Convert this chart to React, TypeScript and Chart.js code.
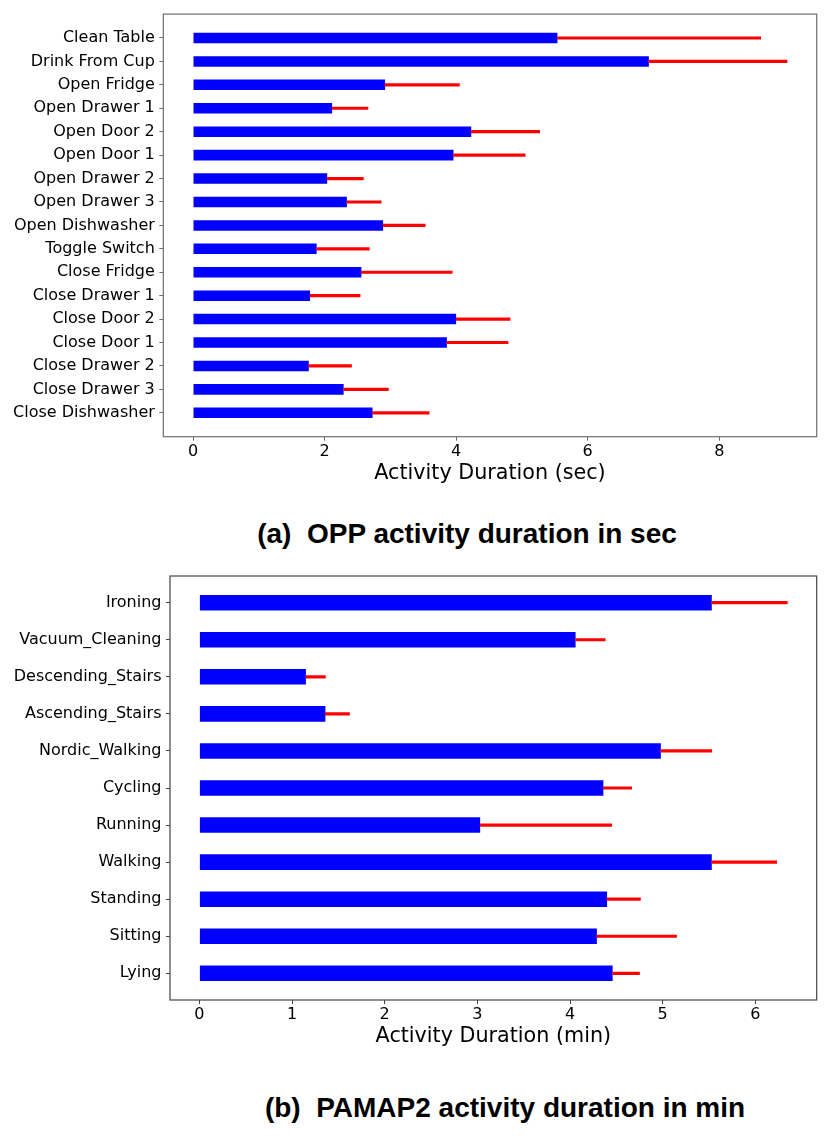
import React, { useEffect, useRef } from "react";
import { Chart, registerables } from "chart.js";

Chart.register(...registerables);

// ---------- Data: (a) OPP ----------
const oppActivities = [
  "Clean Table",
  "Drink From Cup",
  "Open Fridge",
  "Open Drawer 1",
  "Open Door 2",
  "Open Door 1",
  "Open Drawer 2",
  "Open Drawer 3",
  "Open Dishwasher",
  "Toggle Switch",
  "Close Fridge",
  "Close Drawer 1",
  "Close Door 2",
  "Close Door 1",
  "Close Drawer 2",
  "Close Drawer 3",
  "Close Dishwasher",
];
const oppMeans = [5.54, 6.93, 2.92, 2.115, 4.23, 3.96, 2.04, 2.34, 2.89, 1.88, 2.56, 1.78, 4.0, 3.86, 1.76, 2.29, 2.73];
const oppStd = [3.09, 2.1, 1.13, 0.545, 1.04, 1.09, 0.55, 0.52, 0.64, 0.8, 1.38, 0.76, 0.82, 0.93, 0.65, 0.68, 0.86];
const oppTicks = [0, 2, 4, 6, 8];
const oppAxisTitle = "Activity Duration (sec)";
const oppCaption = "(a)  OPP activity duration in sec";

// ---------- Data: (b) PAMAP2 ----------
const pamapActivities = [
  "Ironing",
  "Vacuum_Cleaning",
  "Descending_Stairs",
  "Ascending_Stairs",
  "Nordic_Walking",
  "Cycling",
  "Running",
  "Walking",
  "Standing",
  "Sitting",
  "Lying",
];
const pamapMeans = [5.53, 4.06, 1.15, 1.36, 4.98, 4.36, 3.03, 5.53, 4.4, 4.29, 4.46];
const pamapStd = [0.815, 0.32, 0.21, 0.26, 0.55, 0.305, 1.42, 0.7, 0.36, 0.86, 0.29];
const pamapTicks = [0, 1, 2, 3, 4, 5, 6];
const pamapAxisTitle = "Activity Duration (min)";
const pamapCaption = "(b)  PAMAP2 activity duration in min";

type Geom = {
  width: number;
  height: number;
  padTop: number;
  padRight: number;
  yAxisW: number;
  xAxisH: number;
  titlePadBottom: number;
  barPct: number;
  frameColor: string;
};

function makeFrame(color: string) {
  return {
    id: "frame",
    afterDraw(chart: any) {
      const { ctx, chartArea } = chart;
      const { left, top, right, bottom } = chartArea;
      ctx.save();
      ctx.strokeStyle = color;
      ctx.lineWidth = 1.2;
      ctx.strokeRect(left, top, right - left, bottom - top);
      ctx.restore();
    },
  };
}

function buildConfig(
  labels: string[],
  means: number[],
  stds: number[],
  ticks: number[],
  axisTitle: string,
  g: Geom
): any {
  const n = labels.length;
  const h = 0.4;
  const ySpan = n - 1 + h;
  const yPad = 0.05 * ySpan;
  const xMax = Math.max(...means.map((m, i) => m + stds[i]));
  const xPad = 0.05 * xMax;
  const tickFont = { family: "'DejaVu Sans', sans-serif", size: 16 };
  const gridOpts = {
    display: true,
    drawOnChartArea: false,
    drawTicks: true,
    tickLength: 4,
    offset: false,
    color: g.frameColor,
    tickColor: g.frameColor,
    lineWidth: 1,
  };
  return {
    type: "bar",
    data: {
      datasets: [
        {
          label: "std",
          data: means.map((m, i) => ({ x: [m, m + stds[i]], y: i })),
          backgroundColor: "#ff0000",
          barThickness: 2.5,
          grouped: false,
          order: 0,
        },
        {
          label: "mean",
          data: means.map((m, i) => ({ x: m, y: i })),
          backgroundColor: "#0000ff",
          borderWidth: 0,
          barPercentage: g.barPct,
          categoryPercentage: 1,
          grouped: false,
          order: 1,
        },
      ],
    },
    options: {
      indexAxis: "y",
      animation: false,
      responsive: false,
      events: [],
      layout: { padding: { top: g.padTop, right: g.padRight, left: 0, bottom: 0 } },
      plugins: { legend: { display: false }, tooltip: { enabled: false } },
      scales: {
        x: {
          type: "linear",
          offset: false,
          min: -xPad,
          max: xMax + xPad,
          afterFit: (s: any) => {
            s.height = g.xAxisH;
          },
          afterBuildTicks: (s: any) => {
            s.ticks = ticks.map((v) => ({ value: v }));
          },
          grid: gridOpts,
          border: { display: false },
          ticks: { font: tickFont, color: "#000", padding: 1.5, maxRotation: 0 },
          title: {
            display: true,
            text: axisTitle,
            font: { family: "'DejaVu Sans', sans-serif", size: 20.7 },
            color: "#000",
            padding: { top: 0, bottom: g.titlePadBottom },
          },
        },
        y: {
          type: "linear",
          offset: false,
          reverse: true,
          min: -h / 2 - yPad,
          max: n - 1 + h / 2 + yPad,
          afterFit: (s: any) => {
            s.width = g.yAxisW;
          },
          afterBuildTicks: (s: any) => {
            s.ticks = labels.map((_, i) => ({ value: i }));
          },
          grid: gridOpts,
          border: { display: false },
          ticks: {
            font: tickFont,
            color: "#000",
            padding: 4.5,
            autoSkip: false,
            callback: (v: number) => labels[Math.round(v)] ?? "",
          },
        },
      },
    },
    plugins: [makeFrame(g.frameColor)],
  };
}

function BarPanel(props: {
  labels: string[];
  means: number[];
  stds: number[];
  ticks: number[];
  axisTitle: string;
  geom: Geom;
  top: number;
}) {
  const ref = useRef<HTMLCanvasElement | null>(null);
  useEffect(() => {
    if (!ref.current) return;
    const chart = new Chart(
      ref.current,
      buildConfig(props.labels, props.means, props.stds, props.ticks, props.axisTitle, props.geom)
    );
    return () => chart.destroy();
  }, []);
  return (
    <canvas
      ref={ref}
      width={props.geom.width}
      height={props.geom.height}
      style={{
        position: "absolute",
        left: 0,
        top: props.top,
        width: props.geom.width,
        height: props.geom.height,
      }}
    />
  );
}

const captionStyle = (cx: number, cy: number): React.CSSProperties => ({
  position: "absolute",
  left: cx,
  top: cy,
  transform: "translate(-50%, -50%)",
  whiteSpace: "pre",
  fontFamily: "'Liberation Sans', Arial, sans-serif",
  fontWeight: 700,
  fontSize: 28,
  color: "#000",
  lineHeight: 1,
});

export default function App() {
  const geomA: Geom = {
    width: 830,
    height: 490,
    padTop: 13,
    padRight: 13.3,
    yAxisW: 163.3,
    xAxisH: 53.3,
    titlePadBottom: 3.7,
    barPct: 0.45,
    frameColor: "#6e6e6e",
  };
  const geomB: Geom = {
    width: 830,
    height: 500,
    padTop: 16,
    padRight: 13.3,
    yAxisW: 170,
    xAxisH: 60,
    titlePadBottom: 10.7,
    barPct: 0.42,
    frameColor: "#444444",
  };
  return (
    <div style={{ position: "absolute", left: 0, top: 0, width: 830, height: 1148, background: "#fff" }}>
      <BarPanel
        labels={oppActivities}
        means={oppMeans}
        stds={oppStd}
        ticks={oppTicks}
        axisTitle={oppAxisTitle}
        geom={geomA}
        top={0}
      />
      <div style={captionStyle(467, 534)}>{oppCaption}</div>
      <BarPanel
        labels={pamapActivities}
        means={pamapMeans}
        stds={pamapStd}
        ticks={pamapTicks}
        axisTitle={pamapAxisTitle}
        geom={geomB}
        top={560}
      />
      <div style={captionStyle(505, 1108)}>{pamapCaption}</div>
    </div>
  );
}
